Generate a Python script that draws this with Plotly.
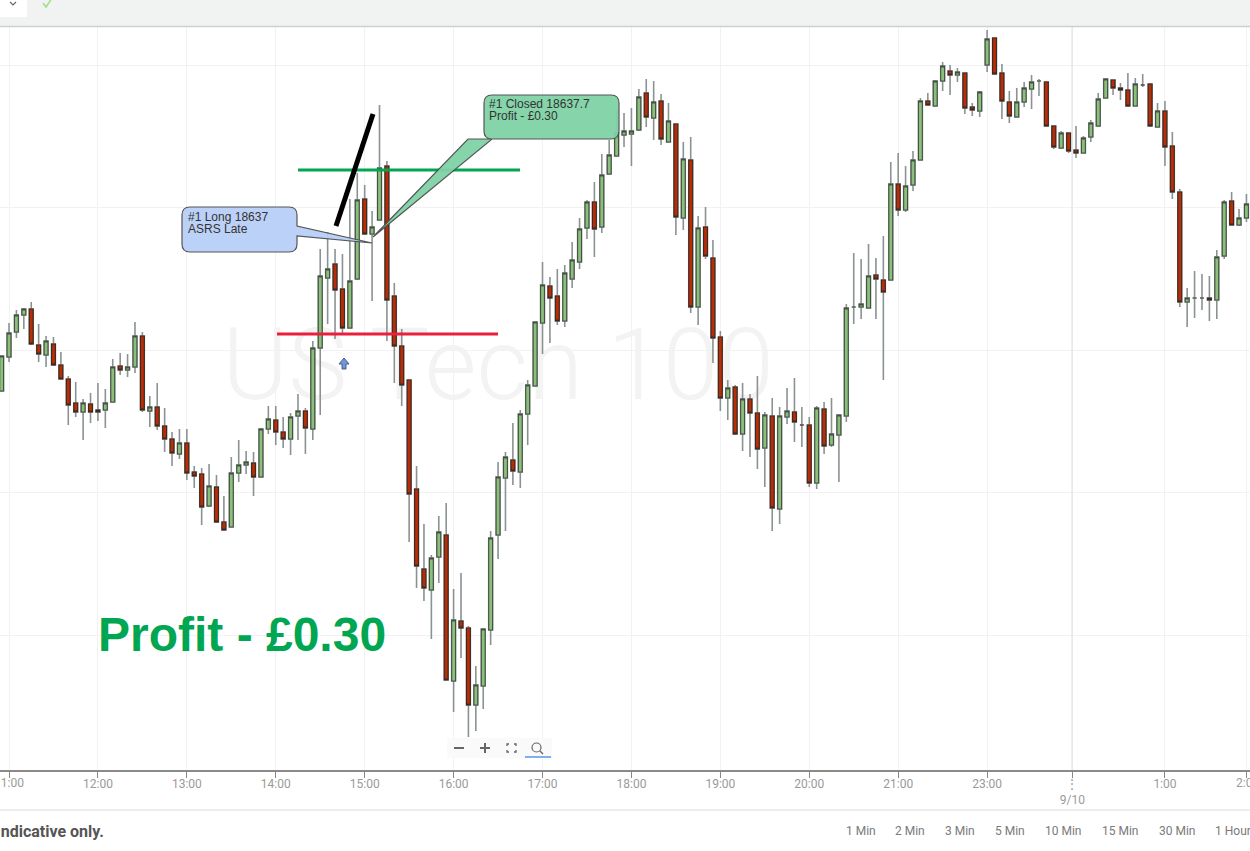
import numpy as np
import plotly.graph_objects as go

W, H = 1250, 851
TOP, BOTTOM = 27, 770

# 5 minute candles
opens = [18486,18520,18545,18562,18568,18532,18522,18533,18512,18498,18474,18465,18473,18467,18467,18475,18511,18507,18510,18541,18466,18470,18451,18438,18423,18434,18405,18403,18371,18390,18355,18350,18404,18412,18414,18400,18448,18457,18445,18438,18461,18466,18448,18529,18599,18613,18588,18549,18598,18678,18643,18657,18711,18581,18531,18497,18388,18308,18287,18320,18342,18196,18256,18249,18172,18191,18247,18342,18399,18417,18405,18463,18491,18554,18591,18581,18556,18598,18615,18649,18675,18650,18703,18721,18742,18743,18747,18784,18759,18776,18735,18753,18659,18717,18570,18650,18619,18540,18479,18490,18443,18478,18464,18429,18461,18368,18460,18465,18452,18452,18394,18468,18432,18442,18461,18570,18570,18569,18602,18597,18597,18693,18667,18692,18717,18776,18771,18796,18806,18802,18804,18770,18766,18812,18839,18804,18775,18760,18775,18788,18796,18795,18751,18729,18744,18727,18724,18740,18751,18779,18797,18789,18787,18771,18792,18793,18750,18766,18731,18685,18575,18579,18579,18579,18577,18621,18676,18652,18659]
highs = [18521,18554,18567,18569,18575,18553,18541,18540,18525,18501,18495,18478,18484,18494,18488,18518,18524,18523,18555,18545,18481,18494,18469,18445,18448,18448,18411,18409,18413,18402,18381,18420,18437,18426,18425,18449,18471,18471,18460,18464,18483,18469,18536,18628,18645,18628,18623,18678,18704,18692,18666,18772,18716,18594,18548,18497,18411,18353,18322,18361,18374,18288,18304,18251,18211,18248,18346,18415,18425,18454,18467,18497,18555,18615,18600,18608,18612,18635,18659,18677,18695,18723,18737,18767,18764,18769,18788,18798,18796,18783,18774,18753,18735,18740,18661,18670,18637,18546,18497,18492,18494,18483,18501,18465,18479,18470,18489,18499,18470,18460,18471,18475,18479,18462,18573,18624,18618,18633,18619,18641,18715,18724,18711,18726,18779,18784,18797,18815,18812,18809,18804,18774,18786,18847,18839,18813,18786,18789,18795,18802,18798,18795,18751,18746,18744,18751,18741,18757,18784,18799,18797,18794,18804,18799,18803,18793,18774,18776,18745,18688,18589,18606,18603,18601,18627,18677,18685,18668,18683]
lows = [18486,18515,18539,18548,18532,18515,18510,18511,18498,18452,18460,18437,18454,18456,18449,18475,18502,18500,18504,18465,18450,18447,18425,18411,18418,18397,18389,18352,18370,18354,18347,18350,18395,18403,18381,18400,18443,18432,18429,18422,18437,18423,18437,18462,18553,18538,18544,18549,18597,18643,18576,18657,18536,18494,18471,18335,18289,18276,18238,18294,18197,18165,18219,18140,18146,18168,18232,18318,18346,18392,18389,18432,18491,18523,18534,18552,18550,18589,18608,18638,18620,18644,18703,18721,18730,18711,18746,18750,18737,18732,18735,18642,18647,18564,18552,18618,18514,18466,18457,18442,18426,18420,18408,18390,18346,18353,18453,18435,18430,18390,18388,18423,18430,18395,18455,18553,18558,18569,18558,18497,18597,18661,18665,18686,18717,18772,18771,18786,18782,18795,18763,18761,18760,18805,18803,18758,18754,18760,18770,18768,18781,18751,18728,18728,18724,18719,18724,18735,18751,18779,18782,18777,18770,18771,18790,18750,18750,18711,18678,18570,18550,18559,18567,18556,18558,18618,18652,18651,18655]
closes = [18521,18544,18562,18568,18533,18523,18536,18512,18498,18472,18465,18474,18465,18465,18474,18510,18507,18510,18541,18467,18470,18451,18438,18424,18434,18404,18401,18370,18391,18355,18347,18404,18412,18415,18400,18448,18458,18445,18438,18460,18466,18449,18529,18601,18608,18587,18549,18596,18677,18643,18650,18709,18577,18531,18492,18383,18311,18289,18319,18345,18197,18257,18249,18172,18192,18248,18339,18400,18420,18406,18463,18492,18555,18592,18579,18556,18604,18617,18648,18675,18648,18702,18722,18744,18746,18746,18780,18760,18775,18738,18756,18660,18718,18570,18649,18621,18539,18479,18489,18443,18478,18464,18428,18462,18369,18461,18466,18455,18452,18394,18469,18431,18443,18462,18569,18570,18573,18601,18598,18585,18693,18667,18691,18717,18776,18772,18796,18811,18802,18805,18769,18767,18785,18838,18803,18776,18761,18775,18789,18795,18796,18751,18730,18744,18726,18724,18739,18754,18778,18798,18789,18787,18771,18793,18792,18751,18766,18730,18685,18575,18579,18579,18579,18577,18620,18675,18652,18659,18673]

# hours on the axis, given as candle numbers; the feed has a gap after 21:00
tick_candles = [1, 13, 25, 37, 49, 61, 73, 85, 97, 109, 121, 133, 144.5, 157, 168]
# plotly drops the two labels that overrun the page, those go in as annotations
tick_labels = ["", "12:00", "13:00", "14:00", "15:00", "16:00", "17:00", "18:00", "19:00",
               "20:00", "21:00", "23:00", "⋮<br>9/10", "1:00", ""]
edge_labels = ["11:00", "2:00"]
edge_label_x = [9, 1247]
price_grid = [18812, 18670, 18527, 18385, 18242]
intervals = ["1 Min", "2 Min", "3 Min", "5 Min", "10 Min", "15 Min", "30 Min", "1 Hour"]
interval_x = [861, 910, 960, 1010, 1063, 1120, 1177, 1233]

trade_target = 18707
trade_stop = 18543


def px(x):
    return x / W


def py(y):
    return (BOTTOM - y) / (BOTTOM - TOP)


def path_px(cmds):
    # small path helper, points are given in page pixels
    out = []
    for c in cmds:
        if isinstance(c, str):
            out.append(c)
        else:
            out.append("%.5f,%.5f" % (px(c[0]), py(c[1])))
    return " ".join(out)


def balloon(x0, y0, x1, y1, r, tail, tip, fill, opacity=1.0):
    # rounded box with a pointer leaving through one side
    side, a, b = tail
    cmds = ["M", (x0 + r, y0), "L", (x1 - r, y0), "Q", (x1, y0), (x1, y0 + r)]
    if side == "right":
        cmds += ["L", (x1, a), "L", tip, "L", (x1, b)]
    cmds += ["L", (x1, y1 - r), "Q", (x1, y1), (x1 - r, y1)]
    if side == "bottom":
        cmds += ["L", (b, y1), "L", tip, "L", (a, y1)]
    cmds += ["L", (x0 + r, y1), "Q", (x0, y1), (x0, y1 - r), "L", (x0, y0 + r), "Q", (x0, y0), (x0 + r, y0), "Z"]
    return dict(type="path", xref="paper", yref="paper", path=path_px(cmds),
                fillcolor=fill, opacity=opacity, line=dict(color="#4d4d4d", width=1.2))


def box(x0, y0, x1, y1, fill, line=None, layer="above"):
    return dict(type="rect", xref="paper", yref="paper", x0=px(x0), x1=px(x1), y0=py(y0), y1=py(y1),
                fillcolor=fill, line=dict(width=0 if line is None else 1, color=line or fill), layer=layer)


def seg(x0, y0, x1, y1, color, width):
    return dict(type="line", xref="paper", yref="paper", x0=px(x0), x1=px(x1), y0=py(y0), y1=py(y1),
                line=dict(color=color, width=width))


def label(x, y, text, size=12, color="#777777", family="Roboto", anchor="center", **kw):
    return dict(xref="paper", yref="paper", x=px(x), y=py(y), text=text, showarrow=False, xanchor=anchor,
                yanchor="middle", align="left", borderpad=0, font=dict(size=size, color=color, family=family), **kw)


candle_no = np.arange(len(opens))
o = np.array(opens, dtype=float)
c = np.array(closes, dtype=float)
body_hi = np.maximum(o, c)
body_lo = np.minimum(o, c)

fig = go.Figure()

# wicks in grey first, then the bodies with a darker edge on top
fig.add_trace(go.Candlestick(
    x=candle_no, open=opens, high=highs, low=lows, close=closes, whiskerwidth=0,
    increasing=dict(line=dict(color="#8b9292", width=1.6), fillcolor="#8b9292"),
    decreasing=dict(line=dict(color="#8b9292", width=1.6), fillcolor="#8b9292"),
    hoverinfo="skip", showlegend=False,
))
fig.add_trace(go.Candlestick(
    x=candle_no, open=opens, high=body_hi, low=body_lo, close=closes, whiskerwidth=0,
    increasing=dict(line=dict(color="#445044", width=1.1), fillcolor="#8bc07a"),
    decreasing=dict(line=dict(color="#3a2a22", width=1.1), fillcolor="#b92c05"),
    showlegend=False,
))

shapes = [
    # watermark sits under the candles
    dict(type="rect", xref="paper", yref="paper", x0=px(198), x1=px(798), y0=py(292), y1=py(422),
         layer="below", line=dict(width=0), fillcolor="rgba(0,0,0,0)",
         label=dict(text="US Tech 100", textposition="middle center",
                    font=dict(size=100, color="#f3f3f3", family="Roboto", weight=300))),
    # the 9/10 day line is a bit stronger than the others
    seg(1072, TOP, 1072, BOTTOM, "#dedede", 1),
    # trade levels
    dict(type="line", xref="paper", yref="y", x0=px(298), x1=px(520), y0=trade_target, y1=trade_target,
         line=dict(color="#00a651", width=3)),
    dict(type="line", xref="paper", yref="y", x0=px(277), x1=px(498), y0=trade_stop, y1=trade_stop,
         line=dict(color="#ea1f3d", width=3)),
    seg(336, 226, 373, 114, "#000000", 5),
    balloon(182, 207, 297, 252, 8, ("right", 226, 236), (372, 243), "#b9cff7", 0.95),
    balloon(484, 95, 619, 139, 8, ("bottom", 468, 492), (373, 237), "#7fd2a6", 0.95),
    # entry arrow
    dict(type="path", xref="paper", yref="paper",
         path=path_px(["M", (344, 358), "L", (349, 364), "L", (346, 364), "L", (346, 369), "L", (342, 369),
                       "L", (342, 364), "L", (339, 364), "Z"]),
         fillcolor="#6f97dd", line=dict(color="#4d5f80", width=1)),
    # page furniture round the chart
    box(0, 0, W, TOP - 1, "#f1f3f2"),
    seg(0, TOP - 0.5, W, TOP - 0.5, "#cfcfcf", 1.5),
    box(0, 0, 27, 17, "#ffffff"),
    dict(type="path", xref="paper", yref="paper", path=path_px(["M", (10, 2), "L", (13, 5), "L", (16, 2)]),
         line=dict(color="#666666", width=1.2)),
    # tick mark of the tab, runs off the top of the page
    dict(type="path", xref="paper", yref="paper",
         path=path_px(["M", (43, 3), "L", (46, 7), "L", (52, -2)]),
         line=dict(color="#a5de8a", width=1.6)),
    seg(0, 810, W, 810, "#e6e6e6", 1.5),
    # zoom widget
    box(447, 738, 552, 758, "#fafafa"),
    seg(454, 748, 464, 748, "#666666", 2),
    seg(480, 748, 490, 748, "#666666", 2),
    seg(485, 743, 485, 753, "#666666", 2),
    dict(type="path", xref="paper", yref="paper",
         path=path_px(["M", (507, 746), "L", (507, 744), "L", (509, 744), "M", (514, 744), "L", (516, 744),
                       "L", (516, 746), "M", (516, 750), "L", (516, 752), "L", (514, 752), "M", (509, 752),
                       "L", (507, 752), "L", (507, 750)]),
         line=dict(color="#666666", width=1.3)),
    dict(type="circle", xref="paper", yref="paper", x0=px(532), x1=px(541), y0=py(743), y1=py(752),
         line=dict(color="#666666", width=1.2)),
    seg(540, 751, 543, 754, "#666666", 1.4),
    seg(525, 757, 551, 757, "#7fb0ee", 2),
]

annotations = [
    label(187, 217, "#1 Long 18637", size=12, color="#333333", family="Liberation Sans", anchor="left"),
    label(187, 229, "ASRS Late", size=12, color="#333333", family="Liberation Sans", anchor="left"),
    label(488, 104, "#1 Closed 18637.7", size=12, color="#333333", family="Liberation Sans", anchor="left"),
    label(488, 116, "Profit - £0.30", size=12, color="#333333", family="Liberation Sans", anchor="left"),
    label(97, 634, "<b>Profit - £0.30</b>", size=48, color="#00a651", family="Liberation Sans", anchor="left"),
    label(105, 831, "<b>Indicative only.</b>", size=16, color="#555555", anchor="right"),
]
for name, x in zip(edge_labels, edge_label_x):
    annotations.append(label(x, 783, name, size=12, color="#9a9a9a"))
for name, x in zip(intervals, interval_x):
    annotations.append(label(x, 831, name, size=12, color="#7a7a7a"))

fig.update_layout(
    width=W, height=H,
    margin=dict(l=0, r=0, t=TOP, b=H - BOTTOM, pad=0),
    paper_bgcolor="#ffffff", plot_bgcolor="#ffffff",
    showlegend=False, boxgap=0.25,
    shapes=shapes, annotations=annotations,
    xaxis=dict(
        type="linear", range=[-0.216, 168.48], rangeslider=dict(visible=False),
        tickmode="array", tickvals=tick_candles, ticktext=tick_labels, tickangle=0,
        showgrid=True, gridcolor="#f2f2f2", gridwidth=1, zeroline=False,
        ticks="outside", ticklen=6, tickcolor="#888888", tickwidth=1, ticklabelstandoff=-4,
        showline=True, linecolor="#8a8a8a", linewidth=1.5,
        tickfont=dict(family="Roboto", size=12, color="#9a9a9a"),
    ),
    yaxis=dict(
        range=[18107, 18850], tickmode="array", tickvals=price_grid, showticklabels=False,
        showgrid=True, gridcolor="#f2f2f2", gridwidth=1, zeroline=False, ticks="", showline=False,
    ),
)

fig.write_html("out.html", config=dict(displayModeBar=False),
               post_script="document.body.style.margin='0';document.body.style.overflow='hidden';")
